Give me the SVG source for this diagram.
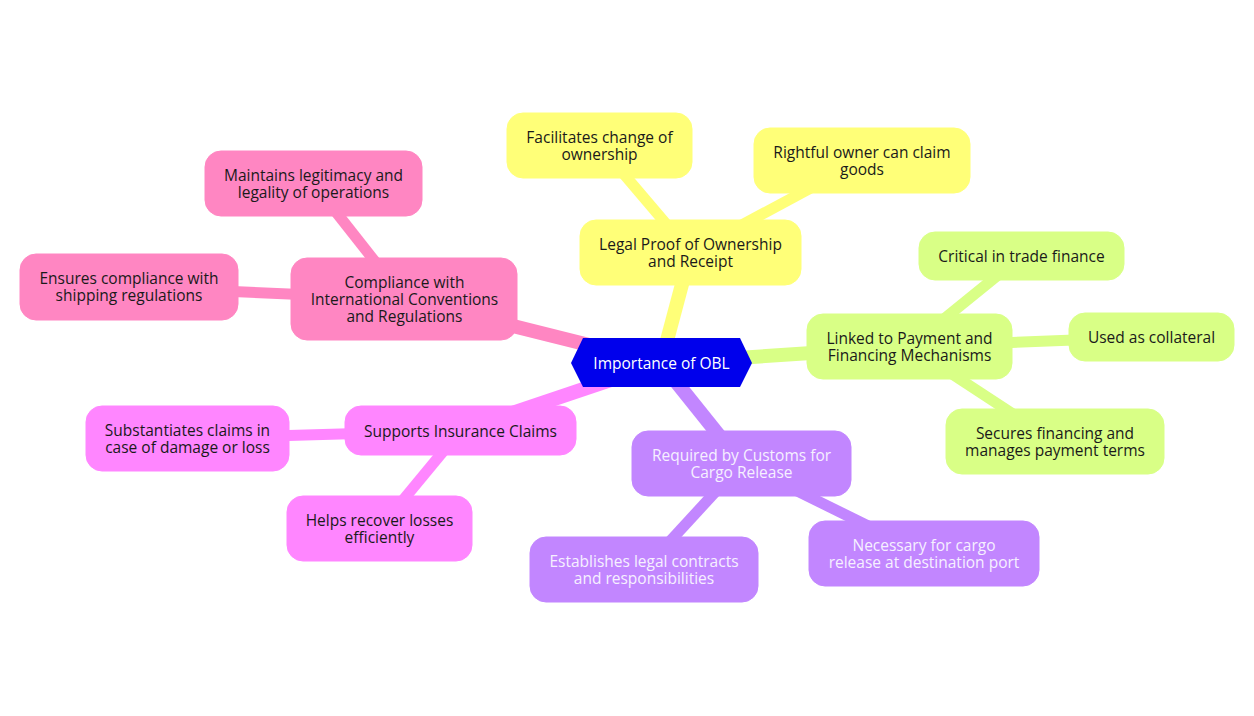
<svg xmlns="http://www.w3.org/2000/svg" width="1254" height="716" viewBox="0 0 1254 716">
<style>
.e0{stroke-width:14;stroke-linecap:butt;fill:none}
.e1{stroke-width:11;stroke-linecap:butt;fill:none}
.y{fill:#ffff78;stroke:#ffff78}
.g{fill:#d9ff86;stroke:#d9ff86}
.p{fill:#c286ff;stroke:#c286ff}
.m{fill:#ff86ff;stroke:#ff86ff}
.k{fill:#ff86c2;stroke:#ff86c2}
.ys{stroke:#ffff78}.gs{stroke:#d9ff86}.ps{stroke:#c286ff}.ms{stroke:#ff86ff}.ks{stroke:#ff86c2}
rect{stroke-width:1}
text{font-family:"Open Sans","Noto Sans","Liberation Sans",sans-serif;font-size:15.5px;text-anchor:middle;dominant-baseline:central;fill:#1a1a1a}
.w{fill:#f6f0ff}
.r{fill:#ffffff}
</style>
<rect width="1254" height="716" fill="#ffffff"/>
<g id="connectors">
<line class="e0 ys" x1="661" y1="363" x2="690.5" y2="252.5"/>
<line class="e1 ys" x1="690.5" y1="252.5" x2="599.5" y2="145.5"/>
<line class="e1 ys" x1="690.5" y1="252.5" x2="862" y2="160.5"/>
<line class="e0 ks" x1="661" y1="363" x2="404.5" y2="299"/>
<line class="e1 ks" x1="404.5" y1="299" x2="313.5" y2="183.5"/>
<line class="e1 ks" x1="404.5" y1="299" x2="129" y2="287"/>
<line class="e0 ms" x1="661" y1="363" x2="460.5" y2="430.5"/>
<line class="e1 ms" x1="460.5" y1="430.5" x2="187.5" y2="438.5"/>
<line class="e1 ms" x1="460.5" y1="430.5" x2="379.5" y2="528.5"/>
<line class="e0 ps" x1="661" y1="363" x2="741.5" y2="463.5"/>
<line class="e1 ps" x1="741.5" y1="463.5" x2="644" y2="569.5"/>
<line class="e1 ps" x1="741.5" y1="463.5" x2="924" y2="553.5"/>
<line class="e0 gs" x1="661" y1="363" x2="910" y2="346.5"/>
<line class="e1 gs" x1="910" y1="346.5" x2="1021.5" y2="256"/>
<line class="e1 gs" x1="910" y1="346.5" x2="1151.5" y2="337"/>
<line class="e1 gs" x1="910" y1="346.5" x2="1055" y2="441.5"/>
</g>
<g id="root">
<polygon points="583,338 740,338 752,363 740,387 583,387 571,363" fill="#0000ec"/>
<text class="r" x="661.5" y="363">Importance of OBL</text>
</g>
<g id="legal">
<rect class="y" x="580" y="220" width="221" height="65" rx="16"/>
<text x="690.5" y="244">Legal Proof of Ownership<tspan x="690.5" dy="17">and Receipt</tspan></text>
</g>
<g id="facilitates">
<rect class="y" x="507" y="113" width="185" height="65" rx="16"/>
<text x="599.5" y="137">Facilitates change of<tspan x="599.5" dy="17">ownership</tspan></text>
</g>
<g id="rightful">
<rect class="y" x="754" y="128" width="216" height="65" rx="16"/>
<text x="862" y="152">Rightful owner can claim<tspan x="862" dy="17">goods</tspan></text>
</g>
<g id="compliance">
<rect class="k" x="291" y="258" width="226" height="82" rx="16"/>
<text x="404.5" y="282">Compliance with<tspan x="404.5" dy="17">International Conventions</tspan><tspan x="404.5" dy="17">and Regulations</tspan></text>
</g>
<g id="maintains">
<rect class="k" x="205" y="151" width="217" height="65" rx="16"/>
<text x="313.5" y="175">Maintains legitimacy and<tspan x="313.5" dy="17">legality of operations</tspan></text>
</g>
<g id="ensures">
<rect class="k" x="20" y="254" width="218" height="66" rx="16"/>
<text x="129" y="278">Ensures compliance with<tspan x="129" dy="17">shipping regulations</tspan></text>
</g>
<g id="insurance">
<rect class="m" x="345" y="406" width="231" height="49" rx="16"/>
<text x="460.5" y="430.5">Supports Insurance Claims</text>
</g>
<g id="substantiates">
<rect class="m" x="86" y="406" width="203" height="65" rx="16"/>
<text x="187.5" y="430">Substantiates claims in<tspan x="187.5" dy="17">case of damage or loss</tspan></text>
</g>
<g id="helps">
<rect class="m" x="287" y="496" width="185" height="65" rx="16"/>
<text x="379.5" y="520">Helps recover losses<tspan x="379.5" dy="17">efficiently</tspan></text>
</g>
<g id="customs">
<rect class="p" x="632" y="431" width="219" height="65" rx="16"/>
<text class="w" x="741.5" y="455">Required by Customs for<tspan x="741.5" dy="17">Cargo Release</tspan></text>
</g>
<g id="establishes">
<rect class="p" x="530" y="537" width="228" height="65" rx="16"/>
<text class="w" x="644" y="561">Establishes legal contracts<tspan x="644" dy="17">and responsibilities</tspan></text>
</g>
<g id="necessary">
<rect class="p" x="809" y="521" width="230" height="65" rx="16"/>
<text class="w" x="924" y="545">Necessary for cargo<tspan x="924" dy="17">release at destination port</tspan></text>
</g>
<g id="linked">
<rect class="g" x="807" y="314" width="205" height="65" rx="16"/>
<text x="909.5" y="338">Linked to Payment and<tspan x="909.5" dy="17">Financing Mechanisms</tspan></text>
</g>
<g id="critical">
<rect class="g" x="919" y="232" width="205" height="48" rx="16"/>
<text x="1021.5" y="256">Critical in trade finance</text>
</g>
<g id="collateral">
<rect class="g" x="1069" y="313" width="165" height="48" rx="16"/>
<text x="1151.5" y="337">Used as collateral</text>
</g>
<g id="secures">
<rect class="g" x="946" y="409" width="218" height="65" rx="16"/>
<text x="1055" y="433">Secures financing and<tspan x="1055" dy="17">manages payment terms</tspan></text>
</g>
</svg>
